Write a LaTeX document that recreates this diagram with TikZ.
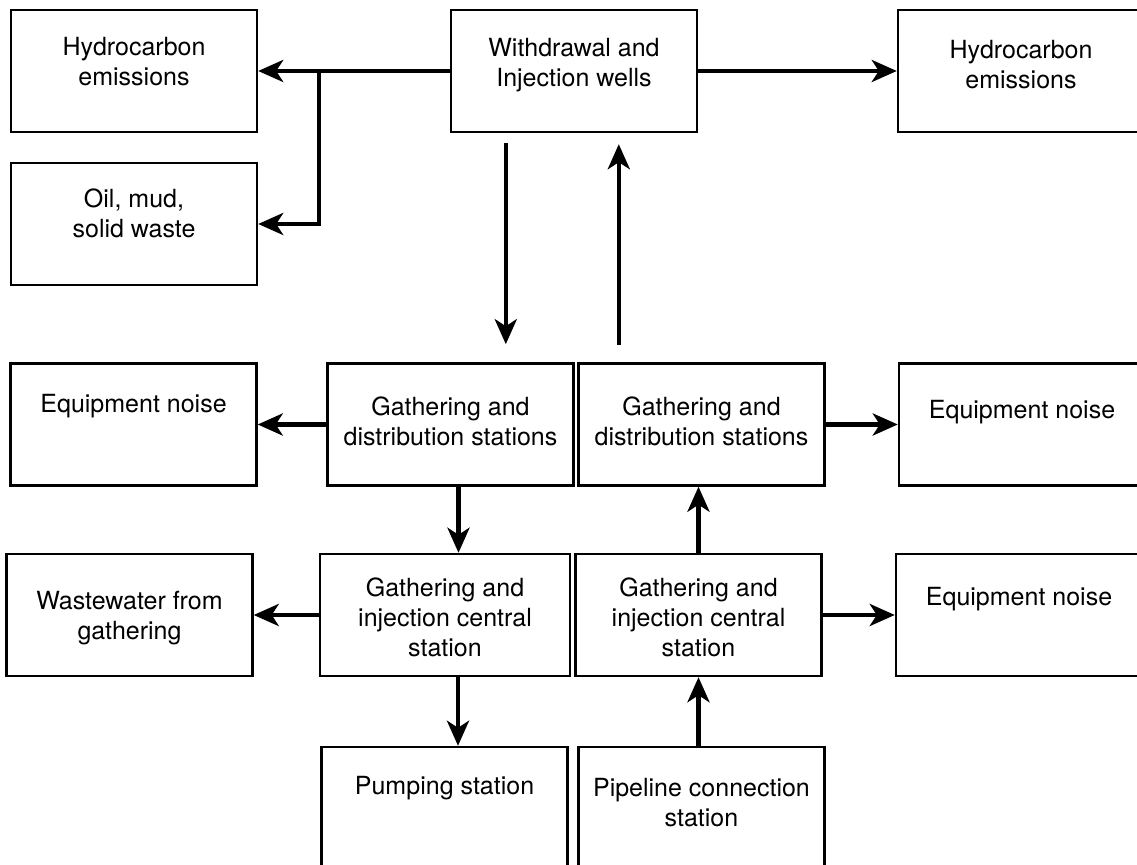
\documentclass[tikz,border=0pt]{standalone}
\usepackage{fontspec}
\setmainfont{TeX Gyre Heros}
\usetikzlibrary{arrows.meta}

\tikzset{
	box/.style={draw, line width=1.2pt, minimum width=123pt, minimum height=61pt},
	txt/.style={align=center, font=\fontsize{12.5}{15}\selectfont},
	arr/.style={line width=2.2pt, -{Stealth[length=12.5pt, width=11pt, inset=3.5pt]}},
}

\begin{document}
\begin{tikzpicture}[x=0.5pt, y=-0.5pt]
		\useasboundingbox (0,0) rectangle (1137,865);

		% top row
		\draw (134,71) node[box] (hcl) {};
		\draw (574,71) node[box] (wells) {};
		\draw (1021,71) node[box] (hcr) {};
		\draw (134,224) node[box] (oil) {};
		\node[txt] (hclt) at ([yshift=4.5pt]hcl.center) {Hydrocarbon\\emissions};
		\node[txt] (wellst) at ([yshift=3pt]wells.center) {Withdrawal and\\Injection wells};
		\node[txt] (hcrt) at ([yshift=3pt]hcr.center) {Hydrocarbon\\emissions};
		\node[txt] (oilt) at ([yshift=5.5pt]oil.center) {Oil, mud,\\solid waste};

		% gathering and distribution
		\draw (133.5,424.5) node[box] (eql) {};
		\draw (450.5,424.5) node[box] (gdl) {};
		\draw (701.5,424.5) node[box] (gdr) {};
		\draw (1022,424.5) node[box] (eqr) {};
		\node[txt] (eqlt) at ([yshift=9pt]eql.center) {Equipment noise};
		\node[txt] (gdlt) at ([yshift=1.5pt]gdl.center) {Gathering and\\distribution stations};
		\node[txt] (gdrt) at ([yshift=1.5pt]gdr.center) {Gathering and\\distribution stations};
		\node[txt] (eqrt) at ([yshift=6pt]eqr.center) {Equipment noise};

		% gathering and injection
		\draw (129.5,615) node[box] (ww) {};
		\draw (445,615) node[box, minimum width=125pt] (gil) {};
		\draw (698.5,615) node[box] (gir) {};
		\draw (1019,615) node[box] (eqb) {};
		\node[txt] (wwt) at ([yshift=-1.5pt]ww.center) {Wastewater from\\gathering};
		\node[txt] (gilt) at ([yshift=-1pt]gil.center) {Gathering and\\injection central\\station};
		\node[txt] (girt) at ([yshift=-1pt]gir.center) {Gathering and\\injection central\\station};
		\node[txt] (eqbt) at ([yshift=8pt]eqb.center) {Equipment noise};

		% bottom row
		\draw (444.5,808) node[box] (pump) {};
		\draw (701.5,808) node[box] (pipe) {};
		\node[txt] (pumpt) at ([yshift=10pt]pump.center) {Pumping station};
		\node[txt] (pipet) at ([yshift=2.5pt]pipe.center) {Pipeline connection\\station};

		% arrows
		\coordinate (brk) at (319,71);
		\draw [arr] (wells.west) -- (hcl.east);
		\draw [arr] (brk) |- (oil.east);
		\draw [arr] (wells.east) -- (hcr.west);
		\coordinate (w1) at ([xshift=28pt,yshift=-5pt]wells.south west);
		\coordinate (w1b) at ([yshift=-100.5pt]w1);
		\draw [arr] (w1) -- (w1b);
		\coordinate (w2) at ([xshift=84.5pt,yshift=-5.5pt]wells.south west);
		\coordinate (w2b) at ([yshift=-100.5pt]w2);
		\draw [arr] (w2b) -- (w2);
		\draw [arr] (gdl.west) -- (eql.east);
		\draw [arr] (gdr.east) -- (eqr.west);
		\coordinate (dn1) at ([xshift=4pt]gdl.south);
		\draw [arr] (dn1) -- (dn1 |- gil.north);
		\draw [arr] (gir.north) -- (gir.north |- gdr.south);
		\draw [arr] (gil.west) -- (ww.east);
		\draw [arr] (gir.east) -- (eqb.west);
		\coordinate (dn2) at ([xshift=6.5pt]gil.south);
		\draw [arr] (dn2) -- (dn2 |- pump.north);
		\draw [arr] (pipe.north -| gir.south) -- (gir.south);
	\end{tikzpicture}
\end{document}
